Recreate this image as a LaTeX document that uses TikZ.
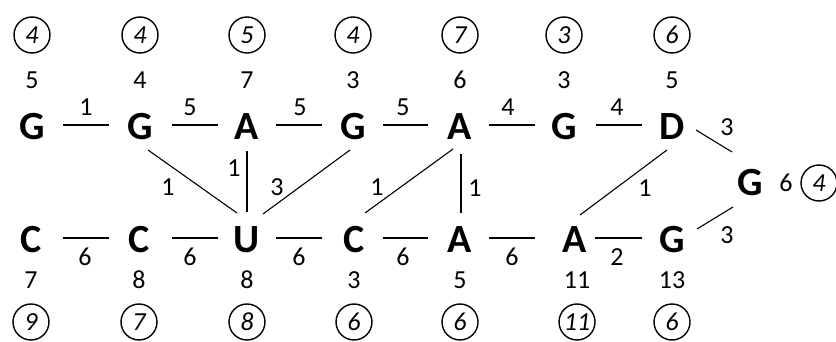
\documentclass[tikz,border=0pt]{standalone}
\usepackage{fontspec}
\setmainfont{Carlito}
\usetikzlibrary{calc}
\begin{document}
\begin{tikzpicture}[x=1pt,y=-1pt,
  base/.style={font=\fontsize{40}{40}\selectfont\bfseries, inner sep=0pt},
  num/.style={font=\fontsize{26}{26}\selectfont, inner sep=0pt},
  ring/.style={draw, circle, line width=1.4pt, minimum size=36pt, inner sep=0pt,
               font=\fontsize{26}{26}\selectfont\itshape},
  link/.style={line width=1.1pt}]
\useasboundingbox (0,0) rectangle (836,342);

% upper chain
\node[base] (t1) at (32,127) {G};
\node[base] (t2) at (140,127) {G};
\node[base] (t3) at (247,127) {A};
\node[base] (t4) at (353,127) {G};
\node[base] (t5) at (460,127) {A};
\node[base] (t6) at (564,127) {G};
\node[base] (t7) at (672,127) {D};
% lower chain
\node[base] (b1) at (31,240) {C};
\node[base] (b2) at (139,240) {C};
\node[base] (b3) at (247,240) {U};
\node[base] (b4) at (354,240) {C};
\node[base] (b5) at (460,240) {A};
\node[base] (b6) at (575,240) {A};
\node[base] (b7) at (672,240) {G};
% end node
\node[base] (g) at (750,183) {G};

% values and circled values, upper chain
\foreach \n/\x/\v/\c in {1/32/5/4, 2/140/4/4, 3/247/7/5, 4/353/3/4, 5/460/6/7, 6/564/3/3, 7/672/5/6}{
  \node[num] (tv\n) at (\x,80) {\v};
  \node[ring] (tc\n) at (\x,35) {\c};
}
% values and circled values, lower chain
\foreach \n/\x/\v/\c in {1/31/7/9, 2/139/8/7, 3/247/8/8, 4/354/3/6, 5/460/5/6, 6/577/11/11, 7/672/13/6}{
  \node[num] (bv\n) at (\x,280) {\v};
  \node[ring] (bc\n) at (\x,322) {\c};
}
\node[num] (gv) at (786,183) {6};
\node[ring] (gc) at (819,183) {4};

% upper horizontal links
\draw[link] ($(t1)+(31,-2)$) -- ($(t2)+(-31,-2)$);
\draw[link] ($(t2)+(32,-2)$) -- ($(t3)+(-29,-2)$);
\draw[link] ($(t3)+(29,-2)$) -- ($(t4)+(-31,-2)$);
\draw[link] ($(t4)+(30,-2)$) -- ($(t5)+(-32,-2)$);
\draw[link] ($(t5)+(29,-2)$) -- ($(t6)+(-29,-2)$);
\draw[link] ($(t6)+(32,-2)$) -- ($(t7)+(-30,-2)$);
% lower horizontal links
\draw[link] ($(b1)+(32,-2)$) -- ($(b2)+(-30,-2)$);
\draw[link] ($(b2)+(33,-2)$) -- ($(b3)+(-29,-2)$);
\draw[link] ($(b3)+(29,-2)$) -- ($(b4)+(-32,-2)$);
\draw[link] ($(b4)+(29,-2)$) -- ($(b5)+(-32,-2)$);
\draw[link] ($(b5)+(29,-2)$) -- ($(b6)+(-40,-2)$);
\draw[link] ($(b6)+(20,-2)$) -- ($(b7)+(-30,-2)$);
% cross links
\draw[link] ($(t2)+(8,23)$) -- ($(b3)+(-10,-27)$);
\draw[link] ($(t3)+(0,24)$) -- ($(b3)+(0,-28)$);
\draw[link] ($(t4)+(-3,23)$) -- ($(b3)+(16,-26)$);
\draw[link] ($(t5)+(-7,22)$) -- ($(b4)+(11,-27)$);
\draw[link] ($(t5)+(1,27)$) -- ($(b5)+(1,-27)$);
\draw[link] ($(t7)+(-5,23)$) -- ($(b6)+(5,-25)$);
\draw[link] ($(t7)+(24,3)$) -- ($(g)+(-18,-31)$);
\draw[link] ($(g)+(-17,24)$) -- ($(b7)+(25,-11)$);

% link weights, upper chain
\foreach \x/\w in {86/1, 190/5, 300/5, 403/5, 508/4, 617/4}
  \node[num] at (\x,107) {\w};
% link weights, lower chain
\foreach \x/\w in {85/6, 190/6, 299/6, 403/6, 512/6, 617/2}
  \node[num] at (\x,257) {\w};
% link weights, cross links
\node[num] at (168,187) {1};
\node[num] at (234,168) {1};
\node[num] at (277,187) {3};
\node[num] at (377,187) {1};
\node[num] at (475,188) {1};
\node[num] at (645,188) {1};
\node[num] at (727,127) {3};
\node[num] at (727,235) {3};
\end{tikzpicture}
\end{document}
